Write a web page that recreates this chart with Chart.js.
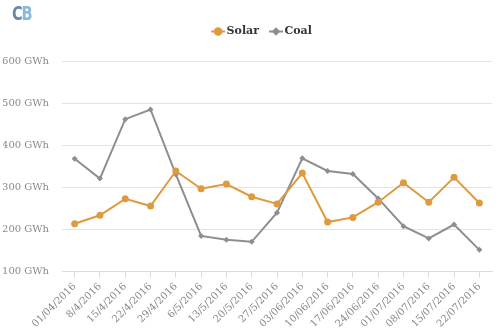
<!DOCTYPE html>
<html>
<head>
<meta charset="utf-8">
<script src="https://cdn.jsdelivr.net/npm/chart.js@4"></script>
<style>
  html, body { margin: 0; padding: 0; background: #fff; }
  #wrap { position: relative; width: 500px; height: 333px; }
  #logo {
    position: absolute; left: 12px; top: 2px;
    font: bold 19px "DejaVu Sans Condensed", "DejaVu Sans", sans-serif;
    letter-spacing: -1.5px;
    transform: scaleX(0.85); transform-origin: left top;
  }
  #logo .c { color: #6289ab; }
  #logo .b { color: #86b9de; }
</style>
</head>
<body>
<div id="wrap">
  <div id="logo"><span class="c">C</span><span class="b">B</span></div>
  <canvas id="chart" width="500" height="333"></canvas>
</div>
<script>
const weeks = ["01/04/2016", "8/4/2016", "15/4/2016", "22/4/2016", "29/4/2016", "6/5/2016",
  "13/5/2016", "20/5/2016", "27/5/2016", "03/06/2016", "10/06/2016", "17/06/2016",
  "24/06/2016", "01/07/2016", "08/07/2016", "15/07/2016", "22/07/2016"]
const solar = [214, 234, 273, 256, 339, 297, 308, 278, 261, 334, 218, 229, 265, 311, 265, 324, 263]
const coal = [368, 321, 462, 485, 331, 185, 176, 171, 240, 369, 339, 332, 274, 208, 179, 212, 152]
const yTicks = [100, 200, 300, 400, 500, 600]

const solarColor = "#e09a3e"
const coalColor = "#8e8e8e"
const serif = "'DejaVu Serif', serif"

// legend: extra room below, nudged right, short line through each marker
const legendTweaks = {
  id: "legendTweaks",
  beforeInit(chart) {
    const fit = chart.legend.fit
    chart.legend.fit = function () {
      fit.call(this)
      this.height += 14
    }
  },
  afterLayout(chart) {
    chart.legend.left += 16
    chart.legend.right += 16
  },
  afterDraw(chart) {
    const legend = chart.legend
    if (!legend || !legend.legendHitBoxes) return
    const ctx = chart.ctx
    legend.legendHitBoxes.forEach((box, i) => {
      const item = legend.legendItems[i]
      const cx = box.left + 3
      const cy = box.top + box.height / 2
      ctx.save()
      ctx.strokeStyle = item.strokeStyle
      ctx.lineWidth = 2
      ctx.beginPath()
      ctx.moveTo(cx - 7, cy)
      ctx.lineTo(cx + 7, cy)
      ctx.stroke()
      ctx.restore()
    })
  },
}

new Chart(document.getElementById("chart"), {
  type: "line",
  data: {
    labels: weeks,
    datasets: [
      {
        label: "Solar",
        data: solar,
        borderColor: solarColor,
        backgroundColor: solarColor,
        borderWidth: 2,
        pointRadius: 3.5,
        pointBorderWidth: 0,
        pointStyle: "circle",
        tension: 0,
      },
      {
        label: "Coal",
        data: coal,
        borderColor: coalColor,
        backgroundColor: coalColor,
        borderWidth: 2,
        pointRadius: 3,
        pointBorderWidth: 0,
        pointStyle: "rectRot",
        tension: 0,
      },
    ],
  },
  options: {
    responsive: false,
    animation: false,
    layout: { padding: { left: 3, right: 8, top: 12, bottom: 0 } },
    plugins: {
      legend: {
        position: "top",
        labels: {
          usePointStyle: true,
          boxWidth: 6,
          boxHeight: 6,
          padding: 14,
          color: "#333",
          font: { family: serif, size: 11, weight: "bold" },
        },
      },
      tooltip: { enabled: false },
    },
    scales: {
      x: {
        offset: true,
        grid: {
          display: true,
          drawOnChartArea: false,
          drawTicks: true,
          tickLength: 6,
          color: "#dcdcdc",
        },
        border: { display: true, color: "#dcdcdc" },
        ticks: {
          autoSkip: false,
          maxRotation: 45,
          minRotation: 45,
          color: "#888",
          font: { family: serif, size: 10 },
        },
      },
      y: {
        min: yTicks[0],
        max: yTicks[yTicks.length - 1],
        afterBuildTicks: (axis) => {
          axis.ticks = yTicks.map((v) => ({ value: v }))
        },
        afterFit: (axis) => {
          axis.width = 59
        },
        grid: { color: "#e3e3e3", drawTicks: false },
        border: { display: false },
        ticks: {
          padding: 13,
          color: "#888",
          font: { family: serif, size: 10 },
          callback: (v) => v + " GWh",
        },
      },
    },
  },
  plugins: [legendTweaks],
})
</script>
</body>
</html>
